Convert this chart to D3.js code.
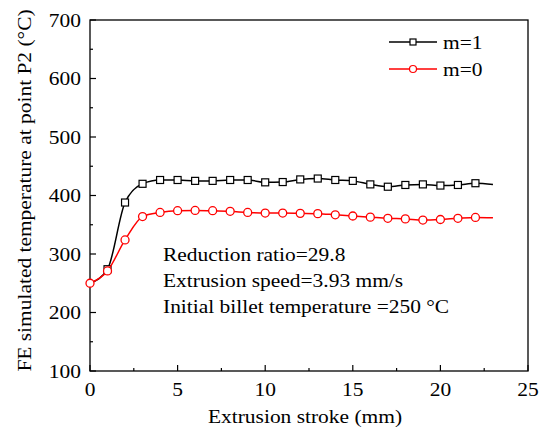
<!DOCTYPE html>
<html><head><meta charset="utf-8">
<script src="https://cdn.jsdelivr.net/npm/d3@7"></script>
<style>body{margin:0;background:#fff}svg{display:block}text{font-family:"Liberation Serif","Times New Roman",serif;fill:#000}</style>
</head><body><svg id="c" width="539" height="429"></svg>
<script>
const strokeM1 = [0,1,2,3,4,5,6,7,8,9,10,11,12,13,14,15,16,17,18,19,20,21,22,23];
const tempM1   = [250,274,388,420,426.5,426.5,425,425,426.5,426.5,422.5,423,427.5,429,426.5,425,419,415,418,419,417,418,421,419];
const strokeM0 = [0,1,2,3,4,5,6,7,8,9,10,11,12,13,14,15,16,17,18,19,20,21,22,23];
const tempM0   = [250,271,324,364,371,374,374.5,374,373,371,370,370,369.5,369,367,365,363,361,360,358,359,361,362.5,362];
const markerMaxStroke = 22;
const xTicks = [0,5,10,15,20,25];
const yTicks = [100,200,300,400,500,600,700];
const seriesNames = ["m=1","m=0"];
const notes = ["Reduction ratio=29.8","Extrusion speed=3.93 mm/s","Initial billet temperature =250 °C"];

const svg = d3.select("#c");
const L=90,R=528,T=20,B=371;
const x = d3.scaleLinear().domain([0,25]).range([L,R]);
const y = d3.scaleLinear().domain([100,700]).range([B,T]);
const FS = 19.5, SX = 1.1;

function txt(px,py,s,anchor,rot){
  const gg = svg.append("g").attr("transform",`translate(${px},${py})${rot?" rotate(-90)":""} scale(${SX},1)`);
  gg.append("text").attr("text-anchor",anchor||"start").attr("font-size",FS).text(s);
}

svg.append("rect").attr("x",L).attr("y",T).attr("width",R-L).attr("height",B-T)
  .attr("fill","none").attr("stroke","#000").attr("stroke-width",1.3);

const g = svg.append("g");
d3.range(0,25.01,2.5).forEach(v=>{
  const major = Math.abs(v%5)<1e-6, len = major?6:3;
  g.append("line").attr("x1",x(v)).attr("x2",x(v)).attr("y1",B).attr("y2",B-len).attr("stroke","#000").attr("stroke-width",1.2);
});
d3.range(100,700.01,50).forEach(v=>{
  const major = v%100===0, len = major?6:3;
  g.append("line").attr("x1",L).attr("x2",L+len).attr("y1",y(v)).attr("y2",y(v)).attr("stroke","#000").attr("stroke-width",1.2);
});
xTicks.forEach(v=> txt(x(v),396,v,"middle"));
yTicks.forEach(v=> txt(L-9,y(v)+6.5,v,"end"));
txt(305,423,"Extrusion stroke (mm)","middle");
txt(31,(T+B)/2-5,"FE simulated temperature at point P2 (°C)","middle",true);

const line = d3.line().x(d=>x(d[0])).y(d=>y(d[1])).curve(d3.curveMonotoneX);
const d1 = strokeM1.map((s,i)=>[s,tempM1[i]]);
const d0 = strokeM0.map((s,i)=>[s,tempM0[i]]);

svg.append("path").attr("d",line(d1)).attr("fill","none").attr("stroke","#000").attr("stroke-width",1.5);
svg.selectAll(".sq").data(d1.filter(d=>d[0]>=1&&d[0]<=markerMaxStroke)).enter().append("rect")
  .attr("x",d=>x(d[0])-3.5).attr("y",d=>y(d[1])-3.5).attr("width",7).attr("height",7)
  .attr("fill","#fff").attr("stroke","#000").attr("stroke-width",1.2);

svg.append("path").attr("d",line(d0)).attr("fill","none").attr("stroke","#f00").attr("stroke-width",1.5);
svg.selectAll(".ci").data(d0.filter(d=>d[0]<=markerMaxStroke)).enter().append("circle")
  .attr("cx",d=>x(d[0])).attr("cy",d=>y(d[1])).attr("r",4)
  .attr("fill","#fff").attr("stroke","#f00").attr("stroke-width",1.3);

const lg = svg.append("g");
[["#000","sq",42],["#f00","ci",69]].forEach((s,i)=>{
  const yy = s[2];
  lg.append("line").attr("x1",389).attr("x2",437).attr("y1",yy).attr("y2",yy).attr("stroke",s[0]).attr("stroke-width",1.5);
  if(s[1]==="sq") lg.append("rect").attr("x",410).attr("y",yy-3).attr("width",6).attr("height",6).attr("fill","#fff").attr("stroke",s[0]).attr("stroke-width",1.2);
  else lg.append("circle").attr("cx",413).attr("cy",yy).attr("r",3.5).attr("fill","#fff").attr("stroke",s[0]).attr("stroke-width",1.2);
  txt(443,yy+6.5,seriesNames[i],"start");
});

notes.forEach((t,i)=> txt(163,261+i*26,t,"start"));
</script></body></html>
